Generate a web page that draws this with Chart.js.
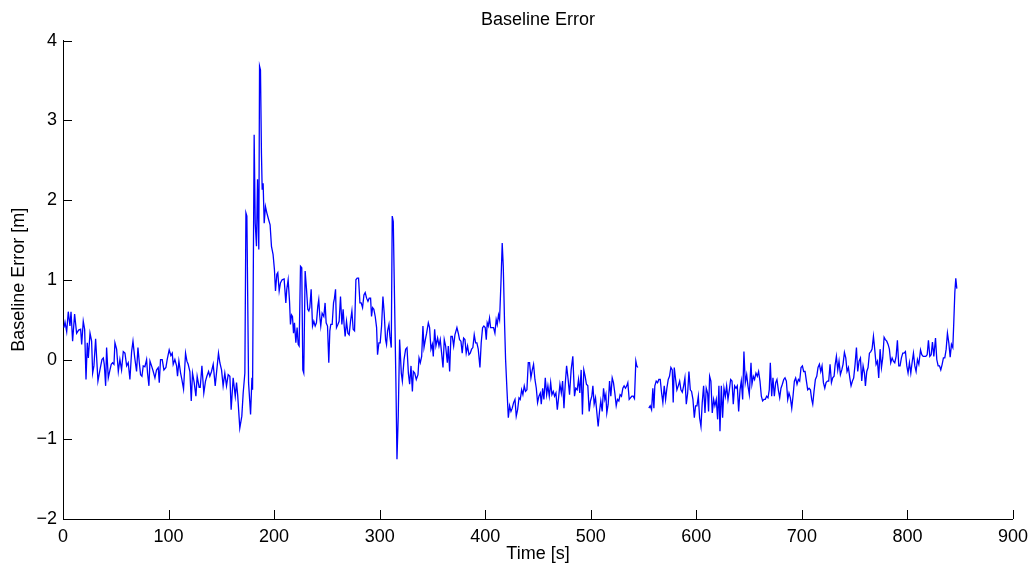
<!DOCTYPE html>
<html>
<head>
<meta charset="utf-8">
<title>Baseline Error</title>
<script src="https://cdn.jsdelivr.net/npm/chart.js@4.4.1/dist/chart.umd.min.js"></script>
<style>
  html, body { margin: 0; padding: 0; background: #fff; }
  #wrap { width: 1035px; height: 571px; position: relative; }
</style>
</head>
<body>
<div id="wrap"><canvas id="baselineChart"></canvas></div>
<script>
// Baseline error vs time.
// Two pieces: the trace drops out between ~545 s and ~555 s.

const xTicks = [0, 100, 200, 300, 400, 500, 600, 700, 800, 900];
const yTicks = [-2, -1, 0, 1, 2, 3, 4];

// before the dropout
const timeA = [
    0.9, 1.9, 3.5, 5.0, 6.6, 7.6, 9.1, 11.0, 12.9, 14.8, 16.7, 17.7, 19.2, 20.5, 21.8, 23.0, 24.0, 25.6, 27.1, 28.1,
    29.3, 30.9, 33.1, 35.0, 36.9, 38.2, 39.1, 40.4, 41.3, 42.9, 44.5, 45.7, 47.0, 48.3, 49.2, 50.8, 52.4, 53.9, 55.5, 57.1,
    58.7, 60.3, 61.8, 63.4, 65.0, 66.3, 67.8, 69.7, 71.0, 72.3, 73.5, 74.8, 76.0, 77.6, 79.2, 80.1, 81.4, 82.4, 83.9, 85.5,
    87.1, 88.6, 90.2, 91.2, 92.4, 94.0, 95.6, 97.5, 98.7, 100.6, 102.2, 103.5, 104.4, 106.0, 107.6, 108.5, 109.8, 111.4, 112.6, 114.2,
    116.1, 117.4, 118.6, 120.2, 121.5, 122.7, 124.3, 125.9, 127.1, 129.0, 130.0, 131.6, 133.4, 135.0, 136.3, 137.9, 139.1, 140.7, 142.3, 144.2,
    145.4, 147.3, 148.6, 150.2, 151.7, 153.3, 154.9, 156.5, 158.1, 159.3, 161.2, 163.2, 164.4, 165.5, 167.5, 169.4, 170.7, 172.3, 173.3, 174.2,
    175.8, 177.7, 179.0, 179.6, 181.1, 182.1, 183.3, 184.3, 185.5, 186.2, 187.1, 188.0, 188.7, 189.6, 190.6, 191.8, 193.1, 194.9, 196.2, 197.5,
    199.0, 200.3, 201.3, 202.6, 203.5, 204.8, 206.0, 207.6, 209.5, 211.1, 212.0, 213.3, 214.6, 215.5, 216.5, 217.4, 218.4, 219.3, 220.6, 221.8,
    222.8, 223.7, 225.0, 226.2, 227.2, 228.1, 229.4, 230.7, 231.9, 232.9, 233.8, 235.1, 236.4, 237.6, 238.9, 240.1, 241.4, 242.3, 243.3, 244.2,
    245.5, 247.1, 248.3, 249.3, 250.6, 251.8, 252.8, 253.7, 255.0, 256.3, 257.2, 258.2, 259.1, 260.4, 261.6, 262.9, 264.2, 265.4, 266.4, 267.3,
    268.6, 269.9, 271.1, 272.4, 273.7, 274.9, 276.2, 277.5, 278.7, 280.0, 281.3, 282.5, 283.8, 285.1, 286.3, 287.6, 288.9, 290.1, 291.4, 292.3,
    293.3, 294.5, 295.8, 297.1, 298.0, 299.3, 300.5, 301.8, 303.1, 304.3, 305.6, 306.5, 307.5, 308.8, 309.7, 311.0, 311.9, 312.9, 314.1, 315.4,
    316.4, 317.6, 318.9, 320.5, 321.5, 323.1, 324.6, 325.9, 327.2, 328.4, 329.7, 331.0, 331.9, 333.2, 334.7, 336.3, 337.3, 338.5, 339.8, 341.0,
    342.0, 343.3, 344.5, 346.1, 347.3, 348.6, 349.9, 350.8, 352.1, 353.3, 354.9, 356.2, 357.4, 358.7, 360.0, 361.2, 362.5, 364.1, 365.0, 366.3,
    367.5, 368.8, 370.1, 371.3, 373.2, 374.5, 375.7, 377.0, 378.2, 379.5, 380.8, 382.0, 383.3, 384.6, 385.8, 387.1, 388.3, 389.6, 390.9, 392.1,
    393.4, 395.0, 396.2, 397.5, 398.7, 400.0, 401.0, 401.9, 402.9, 404.1, 405.1, 406.4, 407.9, 409.2, 410.4, 411.4, 412.6, 413.6, 414.9, 416.1,
    417.1, 418.4, 419.3, 420.6, 421.9, 423.1, 424.4, 425.6, 426.9, 428.2, 429.4, 430.7, 432.0, 433.2, 434.5, 435.7, 437.0, 438.2, 439.5, 440.8,
    442.0, 443.3, 444.6, 445.8, 447.1, 448.4, 449.6, 450.9, 452.2, 453.1, 454.4, 455.6, 456.9, 458.2, 459.4, 460.7, 462.0, 463.2, 464.5, 465.7,
    467.0, 468.3, 469.5, 470.8, 472.1, 473.3, 474.6, 475.8, 477.1, 478.4, 479.9, 481.4, 483.0, 484.6, 485.8, 487.1, 488.4, 489.6, 490.9, 492.1,
    493.4, 494.7, 495.9, 497.2, 498.5, 499.7, 501.0, 502.0, 503.2, 504.5, 505.8, 507.0, 508.3, 509.5, 510.8, 512.1, 513.3, 514.3, 515.2, 516.5,
    517.8, 519.0, 520.3, 521.5, 522.8, 524.1, 525.3, 526.6, 527.8, 529.1, 530.4, 531.6, 532.9, 534.1, 535.1, 536.4, 537.6, 538.9, 540.2, 541.4,
    542.7, 543.6, 544.6
];
const errorA = [
    0.40, 0.47, 0.35, 0.60, 0.42, 0.60, 0.23, 0.57, 0.33, 0.37, 0.38, 0.19, 0.48, 0.38, -0.25, 0.21, 0.02, 0.33, 0.23, -0.17,
    -0.08, 0.26, -0.27, -0.13, 0.00, 0.02, -0.06, -0.33, 0.15, -0.23, -0.13, -0.06, -0.04, -0.06, 0.21, 0.13, -0.15, 0.00, -0.13, 0.10,
    0.08, -0.08, -0.04, -0.25, 0.10, 0.23, 0.04, -0.15, 0.15, -0.04, -0.19, -0.21, -0.08, -0.09, 0.00, -0.17, -0.33, -0.02, -0.08, -0.15,
    -0.23, -0.13, -0.10, -0.29, 0.00, 0.00, -0.13, -0.10, 0.00, 0.12, 0.05, 0.08, -0.06, 0.00, -0.08, -0.21, -0.02, -0.17, -0.25, -0.37,
    0.08, -0.02, -0.06, -0.15, -0.52, -0.17, -0.29, -0.46, -0.21, -0.35, -0.35, -0.08, -0.42, -0.27, -0.21, -0.15, -0.21, -0.15, -0.06, -0.33,
    -0.17, 0.08, -0.04, -0.13, -0.33, -0.17, -0.33, -0.19, -0.21, -0.63, -0.23, -0.46, -0.29, -0.45, -0.86, -0.71, -0.42, -0.17, 1.84, 1.80,
    -0.29, -0.69, -0.23, -0.38, 2.82, 1.71, 1.42, 2.26, 1.38, 3.68, 3.63, 2.59, 2.13, 2.21, 1.71, 1.92, 1.84, 1.75, 1.69, 1.42,
    1.32, 1.13, 0.86, 1.07, 1.09, 0.86, 0.96, 1.00, 1.01, 0.71, 0.88, 1.00, 0.73, 0.44, 0.56, 0.54, 0.33, 0.46, 0.21, 0.40,
    0.19, 0.17, 1.17, 1.15, -0.13, -0.17, 1.11, 0.88, 0.63, 0.61, 0.65, 0.88, 0.42, 0.48, 0.42, 0.46, 0.67, 0.75, 0.54, 0.42,
    0.58, 0.54, 0.71, 0.46, 0.42, -0.04, 0.36, 0.44, 0.44, 0.71, 0.77, 0.88, 0.40, 0.44, 0.48, 0.79, 0.44, 0.63, 0.42, 0.29,
    0.48, 0.33, 0.31, 0.48, 0.61, 0.38, 0.36, 1.00, 1.02, 1.02, 0.71, 0.71, 0.65, 0.81, 0.84, 0.77, 0.73, 0.77, 0.77, 0.54,
    0.65, 0.63, 0.54, 0.40, 0.06, 0.21, 0.21, 0.42, 0.79, 0.58, 0.25, 0.19, 0.36, 0.44, 0.29, 0.15, 1.80, 1.73, 0.75, -0.29,
    -1.25, -0.71, 0.25, -0.17, -0.27, 0.00, 0.13, 0.15, -0.17, -0.31, -0.08, -0.40, -0.15, -0.17, -0.25, -0.19, 0.02, -0.04, 0.04, 0.42,
    0.15, 0.25, 0.33, 0.46, 0.40, 0.13, 0.19, 0.04, 0.38, 0.17, 0.27, 0.17, 0.25, 0.08, -0.10, 0.25, 0.17, -0.04, 0.17, -0.15,
    0.29, 0.29, 0.17, 0.31, 0.40, 0.33, 0.25, 0.23, 0.08, 0.27, 0.25, 0.08, 0.17, 0.06, 0.08, 0.13, 0.15, 0.31, 0.21, 0.21,
    0.13, -0.10, 0.21, 0.40, 0.42, 0.40, 0.25, 0.46, 0.42, 0.52, 0.40, 0.40, 0.40, 0.33, 0.50, 0.44, 0.56, 0.50, 0.96, 1.46,
    1.17, 0.42, 0.00, -0.38, -0.73, -0.58, -0.65, -0.61, -0.54, -0.50, -0.71, -0.63, -0.48, -0.50, -0.38, -0.44, -0.33, -0.40, -0.38, -0.04,
    -0.04, -0.23, -0.13, -0.06, -0.25, -0.36, -0.54, -0.46, -0.42, -0.56, -0.36, -0.50, -0.23, -0.44, -0.33, -0.46, -0.29, -0.44, -0.40, -0.46,
    -0.42, -0.63, -0.48, -0.31, -0.42, -0.27, -0.61, -0.31, -0.08, -0.23, -0.44, -0.13, 0.04, -0.46, -0.36, -0.38, -0.25, -0.42, -0.13, -0.69,
    -0.13, -0.21, -0.31, -0.33, -0.65, -0.52, -0.46, -0.33, -0.56, -0.48, -0.67, -0.84, -0.65, -0.52, -0.65, -0.36, -0.50, -0.44, -0.67, -0.56,
    -0.27, -0.46, -0.23, -0.29, -0.42, -0.58, -0.50, -0.52, -0.44, -0.46, -0.36, -0.33, -0.36, -0.33, -0.29, -0.50, -0.48, -0.46, -0.46, -0.49,
    -0.02, -0.08, -0.10
];

// after the dropout
const timeB = [
    555.0, 556.3, 557.6, 558.8, 559.8, 560.7, 562.0, 563.3, 564.5, 565.8, 567.1, 568.3, 569.6, 570.9, 572.1, 573.4, 574.6, 575.9, 577.2, 578.1,
    579.1, 580.4, 581.6, 582.9, 584.2, 585.4, 586.7, 588.0, 589.2, 590.5, 591.8, 593.0, 594.3, 595.5, 596.8, 598.1, 599.3, 600.6, 601.9, 603.1,
    604.4, 605.6, 606.9, 608.2, 609.4, 610.7, 611.6, 612.6, 613.8, 615.1, 616.4, 617.6, 618.9, 620.2, 621.4, 622.4, 623.7, 624.9, 626.2, 627.5,
    628.7, 630.0, 631.3, 632.5, 633.8, 635.0, 636.3, 637.6, 638.8, 640.1, 641.4, 642.6, 643.9, 645.1, 646.4, 647.7, 648.9, 650.2, 651.8, 652.7,
    654.0, 655.2, 656.5, 657.8, 659.0, 660.3, 661.6, 662.8, 664.1, 665.3, 666.6, 667.9, 669.1, 670.1, 671.4, 672.6, 673.9, 675.2, 676.4, 677.7,
    679.0, 680.2, 681.5, 682.8, 684.0, 685.3, 686.6, 687.8, 689.1, 690.4, 691.6, 692.9, 694.1, 695.4, 696.7, 697.9, 699.2, 700.5, 701.7, 703.0,
    704.3, 705.5, 706.8, 708.1, 709.3, 710.3, 711.5, 712.8, 714.1, 715.3, 716.6, 717.9, 719.1, 720.4, 721.7, 722.9, 724.2, 725.4, 726.7, 728.0,
    729.2, 730.5, 731.4, 732.7, 734.0, 735.2, 736.5, 737.8, 739.0, 740.3, 741.6, 742.8, 744.1, 745.4, 746.6, 747.9, 749.1, 750.4, 751.7, 752.9,
    754.2, 755.5, 756.7, 758.0, 759.3, 760.2, 761.5, 762.7, 764.0, 765.3, 766.5, 767.8, 769.0, 770.3, 771.6, 772.8, 774.1, 775.4, 776.6, 777.9,
    779.1, 780.4, 781.7, 782.9, 784.2, 785.5, 786.7, 788.0, 789.3, 790.5, 791.8, 793.0, 794.3, 795.6, 796.8, 798.1, 799.4, 800.6, 801.9, 803.2,
    804.4, 805.7, 807.0, 808.2, 809.5, 810.8, 812.4, 813.6, 814.9, 816.1, 817.4, 818.7, 819.9, 821.2, 822.5, 823.7, 825.0, 826.6, 827.8, 829.1,
    830.4, 831.6, 832.9, 834.1, 835.4, 836.7, 837.9, 839.2, 840.5, 841.7, 843.0, 843.9, 844.9, 845.8, 846.8
];
const errorB = [
    -0.61, -0.58, -0.63, -0.36, -0.61, -0.33, -0.27, -0.29, -0.25, -0.25, -0.42, -0.54, -0.33, -0.50, -0.36, -0.25, -0.21, -0.10, -0.13, -0.54,
    -0.10, -0.25, -0.38, -0.33, -0.27, -0.38, -0.41, -0.33, -0.23, -0.56, -0.42, -0.15, -0.38, -0.40, -0.50, -0.73, -0.58, -0.58, -0.46, -0.73,
    -0.84, -0.54, -0.33, -0.67, -0.36, -0.42, -0.65, -0.21, -0.27, -0.67, -0.50, -0.58, -0.50, -0.75, -0.33, -0.90, -0.33, -0.73, -0.36, -0.46,
    -0.33, -0.50, -0.38, -0.25, -0.27, -0.56, -0.33, -0.36, -0.33, -0.65, -0.38, -0.27, -0.50, 0.10, -0.29, -0.19, -0.33, -0.44, -0.04, -0.31,
    -0.21, -0.25, -0.17, -0.21, -0.15, -0.27, -0.46, -0.52, -0.50, -0.50, -0.46, -0.48, -0.38, -0.04, -0.46, -0.23, -0.46, -0.29, -0.25, -0.38,
    -0.48, -0.36, -0.31, -0.25, -0.23, -0.27, -0.50, -0.42, -0.48, -0.61, -0.46, -0.27, -0.23, -0.31, -0.25, -0.27, -0.10, -0.08, -0.15, -0.15,
    -0.27, -0.38, -0.36, -0.38, -0.50, -0.56, -0.40, -0.25, -0.21, -0.10, -0.06, -0.15, -0.08, -0.29, -0.36, -0.29, -0.27, -0.27, -0.06, -0.29,
    -0.23, -0.21, -0.08, 0.04, -0.13, -0.02, -0.19, -0.13, -0.06, 0.09, 0.02, -0.15, -0.10, -0.23, -0.33, -0.27, -0.23, -0.06, 0.15, -0.15,
    -0.02, 0.02, -0.27, -0.08, -0.17, -0.33, -0.15, -0.10, 0.08, 0.10, 0.13, 0.29, 0.13, -0.06, -0.02, -0.23, 0.13, -0.10, 0.02, 0.28,
    0.25, 0.23, 0.19, 0.13, -0.04, 0.02, -0.02, -0.04, 0.04, 0.24, -0.08, -0.08, 0.02, 0.08, 0.08, 0.10, -0.08, -0.17, -0.04, -0.17,
    -0.04, 0.08, -0.08, -0.15, 0.00, -0.06, 0.12, 0.06, 0.04, 0.04, 0.04, 0.06, 0.24, 0.04, 0.06, 0.22, 0.04, 0.27, 0.00, -0.08,
    -0.08, -0.13, -0.06, 0.02, 0.02, 0.13, 0.33, 0.21, 0.03, 0.19, 0.15, 0.46, 0.84, 1.02, 0.89
];

const FONT = "'Liberation Sans', Arial, Helvetica, sans-serif";
const LINE_BLUE = '#0000ff';

// join both pieces, with a null point so the line breaks across the dropout
const points = timeA.map((t, i) => ({ x: t, y: errorA[i] }))
    .concat([{ x: (timeA[timeA.length - 1] + timeB[0]) / 2, y: null }])
    .concat(timeB.map((t, i) => ({ x: t, y: errorB[i] })));

// MATLAB-style ticks that point into the plot area
const inwardTicks = {
    id: 'inwardTicks',
    afterDraw(chart) {
        const { ctx, scales: { x, y } } = chart;
        const len = 9;
        ctx.save();
        ctx.strokeStyle = '#000';
        ctx.lineWidth = 1;
        ctx.beginPath();
        xTicks.forEach(v => {
            const px = Math.round(x.getPixelForValue(v)) + 0.5;
            ctx.moveTo(px, y.bottom);
            ctx.lineTo(px, y.bottom - len);
        });
        yTicks.forEach(v => {
            const py = Math.round(y.getPixelForValue(v)) + 0.5;
            ctx.moveTo(x.left, py);
            ctx.lineTo(x.left + len, py);
        });
        ctx.stroke();
        ctx.restore();
    }
};

new Chart(document.getElementById('baselineChart'), {
    type: 'line',
    data: {
        datasets: [{
            label: 'Baseline Error',
            data: points,
            borderColor: LINE_BLUE,
            backgroundColor: 'transparent',
            borderWidth: 1.3,
            pointRadius: 0,
            tension: 0,
            spanGaps: false
        }]
    },
    options: {
        responsive: true,
        maintainAspectRatio: false,
        animation: false,
        layout: { padding: { top: 0, right: 21, bottom: 0, left: 0 } },
        plugins: {
            legend: { display: false },
            tooltip: { enabled: false },
            title: {
                display: true,
                fullSize: false,   // centre over the plot area, not the canvas
                text: 'Baseline Error',
                color: '#000',
                font: { family: FONT, size: 18, weight: 'normal' },
                padding: { top: 9, bottom: 10 }
            }
        },
        scales: {
            x: {
                type: 'linear',
                min: 0,
                max: 900,
                afterFit: s => { s.height = 52; },
                afterBuildTicks: s => { s.ticks = xTicks.map(v => ({ value: v })); },
                ticks: {
                    color: '#000',
                    font: { family: FONT, size: 18 },
                    padding: 7,
                    maxRotation: 0
                },
                grid: { display: true, drawOnChartArea: false, drawTicks: false },
                border: { display: true, color: '#000', width: 1 },
                title: {
                    display: true,
                    text: 'Time [s]',
                    color: '#000',
                    font: { family: FONT, size: 18 },
                    padding: { top: 0, bottom: 6 }
                }
            },
            y: {
                type: 'linear',
                min: -2,
                max: 4,
                afterFit: s => { s.width = 63; },
                afterBuildTicks: s => { s.ticks = yTicks.map(v => ({ value: v })); },
                ticks: {
                    color: '#000',
                    font: { family: FONT, size: 18 },
                    padding: 6,
                    callback: v => String(v).replace('-', '\u2212')
                },
                grid: { display: true, drawOnChartArea: false, drawTicks: false },
                border: { display: true, color: '#000', width: 1 },
                title: {
                    display: true,
                    text: 'Baseline Error [m]',
                    color: '#000',
                    font: { family: FONT, size: 18 },
                    padding: { top: 8, bottom: 0 }
                }
            }
        }
    },
    plugins: [inwardTicks]
});
</script>
</body>
</html>
